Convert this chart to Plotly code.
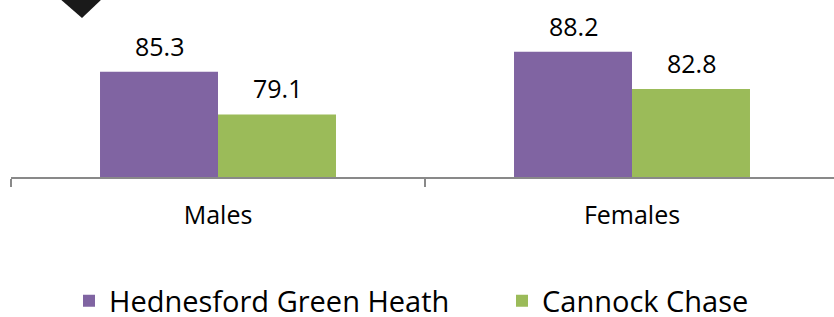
import plotly.graph_objects as go

categories = ["Males", "Females"]
series_names = ["Hednesford Green Heath", "Cannock Chase"]
hednesford = [85.3, 88.2]
cannock = [79.1, 82.8]
colors = ["#8064A2", "#9BBB59"]

W, H = 834, 317
ml, mr, mt, mb = 11, 0, 0, 140
plot_w = W - ml - mr
plot_h = H - mt - mb
cat_px = 414.0
px_per_unit = 6.88
y_min = 70
bargap = 0.43

fig = go.Figure()
legend_ids = ["legend", "legend2"]
for name, vals, col, lg in zip(series_names, [hednesford, cannock], colors, legend_ids):
    fig.add_trace(go.Bar(x=categories, y=vals, name=name, legend=lg,
                         marker=dict(color=col, line=dict(width=0))))

annotations = []
for j, vals in enumerate([hednesford, cannock]):
    for i, v in enumerate(vals):
        annotations.append(dict(
            x=i + (j - 0.5) * (1 - bargap) / 2, y=v, xref="x", yref="y",
            text=f"{v:.1f}", showarrow=False, yanchor="middle", yshift=26,
            font=dict(family="Open Sans", size=25, color="#000000")))

# decorative pointer at top left
def px2paper(x, y):
    return (x - ml) / plot_w, (H - mb - y) / plot_h

p1 = px2paper(59, -2)
p2 = px2paper(103, -2)
p3 = px2paper(82, 18)

legend_common = dict(orientation="h", xref="container", yref="container",
                     xanchor="left", yanchor="middle",
                     font=dict(family="Open Sans", size=29, color="#000000"),
                     bgcolor="rgba(0,0,0,0)")

fig.update_layout(
    width=W, height=H,
    margin=dict(l=ml, r=mr, t=mt, b=mb, pad=0, autoexpand=False),
    paper_bgcolor="white", plot_bgcolor="white",
    barmode="group", bargap=bargap, bargroupgap=0,
    font=dict(family="Open Sans", color="#000000"),
    xaxis=dict(type="category", range=[-0.5, -0.5 + plot_w / cat_px],
               showline=True, linecolor="#898989", linewidth=1.5,
               ticks="outside", tickson="boundaries", ticklen=8, tickwidth=1.5,
               tickcolor="#898989", showgrid=False, zeroline=False,
               automargin=False,
               tickfont=dict(family="Open Sans", size=25, color="#000000"),
               ticklabelstandoff=15),
    yaxis=dict(range=[y_min, y_min + plot_h / px_per_unit], visible=False,
               showgrid=False, zeroline=False, automargin=False),
    legend=dict(x=69 / W, y=(H - 301) / H, **legend_common),
    legend2=dict(x=502 / W, y=(H - 301) / H, **legend_common),
    showlegend=True,
    annotations=annotations,
    shapes=[dict(type="path", xref="paper", yref="paper",
                 path=f"M {p1[0]} {p1[1]} L {p2[0]} {p2[1]} L {p3[0]} {p3[1]} Z",
                 fillcolor="#1a1a1a", line=dict(width=0))],
)

fig.write_html("out.html", config={"displayModeBar": False},
               post_script="document.body.style.margin='0';document.body.style.padding='0';")
